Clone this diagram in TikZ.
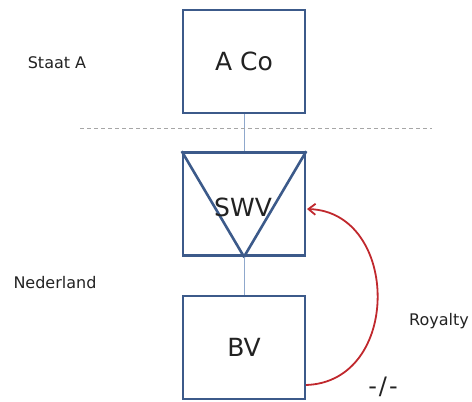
\documentclass[tikz,border=0pt]{standalone}
\usepackage{fontspec}
\setmainfont{DejaVu Sans}
\usetikzlibrary{arrows.meta}
\definecolor{boxblue}{HTML}{3C5A8A}
\definecolor{linkblue}{HTML}{8FA8CC}
\definecolor{arcred}{HTML}{C0282D}
\definecolor{txt}{HTML}{222222}
\begin{document}
\begin{tikzpicture}[x=1pt,y=-1pt,
  ent/.style={draw=boxblue,line width=2.6pt,minimum width=122pt,minimum height=103pt,inner sep=0pt,font=\fontsize{25}{30}\selectfont,text=txt},
  lbl/.style={font=\fontsize{16}{19}\selectfont,text=txt,inner sep=0pt}]
\useasboundingbox (0,0) rectangle (472,402);
\node[ent] (aco) at (244,61.5) {A Co};
\node[ent] (swv) at (244,204) {};
\node[ent] (bv) at (244,347.5) {BV};
\draw[boxblue,line width=2.6pt,line join=round] (swv.north west) -- (swv.south) -- (swv.north east);
\node[font=\fontsize{25}{30}\selectfont,text=txt] (swvt) at (243,207) {SWV};
\draw[linkblue,line width=0.8pt] (aco.south) -- (swv.north);
\draw[linkblue,line width=0.8pt] (swv.south) -- (bv.north);
\coordinate (dl) at (80,128);
\coordinate (dr) at (432,128);
\draw[gray!70,line width=1pt,dash pattern=on 4pt off 3pt] (dl) -- (dr);
\node[lbl] (staat) at (57,63) {Staat A};
\node[lbl] (ned) at (55,283) {Nederland};
\node[lbl] (roy) at (439,321) {Royalty};
\node[font=\fontsize{24}{28}\selectfont,text=txt,inner sep=0pt] (nl) at (383,387) {-\kern2pt/\kern2pt-};
\coordinate (as) at (306,385);
\coordinate (ae) at (307,209);
\draw[arcred,line width=1.8pt,-{Straight Barb[length=7pt,width=11pt]}] (as) .. controls (402,382) and (400,212) .. (ae);
\end{tikzpicture}
\end{document}
